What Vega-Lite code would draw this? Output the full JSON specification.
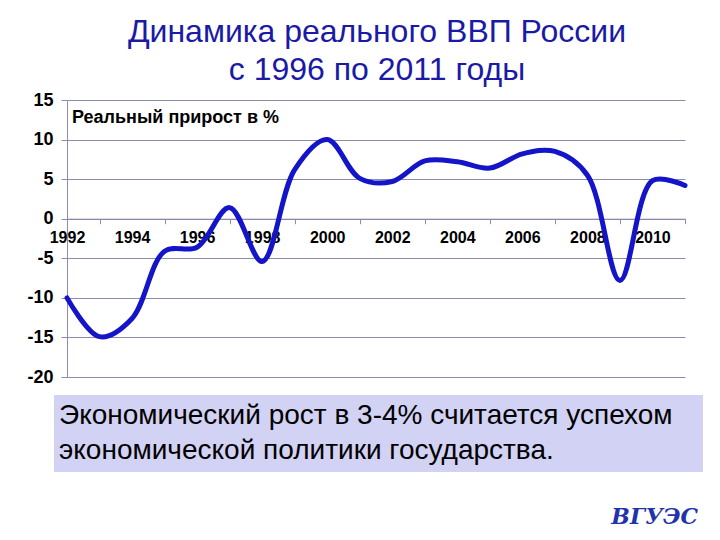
{
  "$schema": "https://vega.github.io/schema/vega-lite/v6.json",
  "background": "white",
  "padding": {"left": 26, "top": 16, "right": 10, "bottom": 5},
  "autosize": {"type": "pad"},
  "title": {
    "text": ["Динамика реального ВВП России", "с 1996 по 2011 годы"],
    "fontSize": 32,
    "fontWeight": "normal",
    "color": "#1a1aa6",
    "lineHeight": 38,
    "anchor": "middle",
    "offset": 4,
    "dx": 12
  },
  "spacing": 18,
  "bounds": "flush",
  "vconcat": [
    {
      "width": 618,
      "height": 277,
      "layer": [
        {
          "data": {
            "values": [
              {"year": 1992, "growth": -10.0},
              {"year": 1993, "growth": -14.9},
              {"year": 1994, "growth": -12.6},
              {"year": 1995, "growth": -4.1},
              {"year": 1996, "growth": -3.6},
              {"year": 1997, "growth": 1.4},
              {"year": 1998, "growth": -5.4},
              {"year": 1999, "growth": 6.2},
              {"year": 2000, "growth": 10.0},
              {"year": 2001, "growth": 5.1},
              {"year": 2002, "growth": 4.7},
              {"year": 2003, "growth": 7.3},
              {"year": 2004, "growth": 7.2},
              {"year": 2005, "growth": 6.4},
              {"year": 2006, "growth": 8.2},
              {"year": 2007, "growth": 8.5},
              {"year": 2008, "growth": 5.5},
              {"year": 2009, "growth": -7.8},
              {"year": 2010, "growth": 4.8},
              {"year": 2011, "growth": 4.2}
            ]
          },
          "mark": {"type": "line", "interpolate": "catmull-rom", "color": "#1414c8", "strokeWidth": 5, "strokeCap": "round"},
          "encoding": {
            "x": {
              "field": "year",
              "type": "quantitative",
              "scale": {"domain": [1992, 2011], "nice": false, "zero": false},
              "axis": {
                "title": null,
                "values": [1992, 1993, 1994, 1995, 1996, 1997, 1998, 1999, 2000, 2001, 2002, 2003, 2004, 2005, 2006, 2007, 2008, 2009, 2010, 2011],
                "tickCount": 40,
                "format": "d",
                "labelExpr": "datum.value % 2 == 0 ? datum.label : ''",
                "offset": -158.3,
                "grid": false,
                "tickSize": 5,
                "tickColor": "#8c8ca8",
                "tickOpacity": {"condition": {"test": "datum.value % 2 == 1", "value": 1}, "value": 0},
                "domainColor": "#8c8ca8",
                "labelFontSize": 16,
                "labelFontWeight": "bold",
                "labelColor": "black",
                "labelPadding": 6,
                "labelOverlap": false,
                "labelFlush": false
              }
            },
            "y": {
              "field": "growth",
              "type": "quantitative",
              "scale": {"domain": [-20, 15], "nice": false, "zero": false},
              "axis": {
                "title": null,
                "values": [-20, -15, -10, -5, 0, 5, 10, 15],
                "tickCount": 20,
                "labelExpr": "toString(datum.value)",
                "labelOverlap": false,
                "grid": true,
                "gridColor": "#8c8ca8",
                "tickSize": 6,
                "tickColor": "#8c8ca8",
                "domainColor": "#8c8ca8",
                "labelFontSize": 18,
                "labelFontWeight": "bold",
                "labelColor": "black",
                "labelPadding": 8
              }
            }
          }
        },
        {
          "data": {"values": [{"label": "Реальный прирост в %"}]},
          "mark": {"type": "text", "align": "left", "baseline": "top", "fontSize": 18, "fontWeight": "bold", "color": "black", "dx": 5, "dy": 9},
          "encoding": {
            "x": {"datum": 1992, "type": "quantitative"},
            "y": {"datum": 15, "type": "quantitative"},
            "text": {"field": "label"}
          }
        }
      ]
    },
    {
      "width": 636,
      "height": 77,
      "layer": [
        {
          "data": {"values": [{"box": "caption"}]},
          "mark": {"type": "rect", "color": "#d2d2f4", "xOffset": -13},
          "encoding": {
            "x": {"datum": 0, "type": "quantitative", "scale": {"domain": [0, 1]}, "axis": null},
            "x2": {"datum": 1}
          }
        },
        {
          "data": {
            "values": [
              {"line": 1, "text": "Экономический рост в 3-4% считается успехом"},
              {"line": 2, "text": "экономической политики государства."}
            ]
          },
          "mark": {"type": "text", "align": "left", "baseline": "middle", "fontSize": 28, "color": "black", "dx": -8},
          "encoding": {
            "x": {"datum": 0, "type": "quantitative", "scale": {"domain": [0, 1]}, "axis": null},
            "y": {"field": "line", "type": "ordinal", "axis": null, "scale": {"padding": 0.57}},
            "text": {"field": "text"}
          }
        }
      ]
    },
    {
      "width": 636,
      "height": 45,
      "data": {"values": [{"logo": "ВГУЭС"}]},
      "mark": {"type": "text", "align": "right", "baseline": "middle", "fontSize": 22, "fontStyle": "italic", "fontWeight": "bold", "color": "#2233aa", "font": "DejaVu Serif", "dx": -5, "dy": 4},
      "encoding": {
        "x": {"datum": 1, "type": "quantitative", "scale": {"domain": [0, 1]}, "axis": null},
        "text": {"field": "logo"}
      }
    }
  ],
  "config": {
    "font": "Liberation Sans",
    "view": {"stroke": null}
  }
}
